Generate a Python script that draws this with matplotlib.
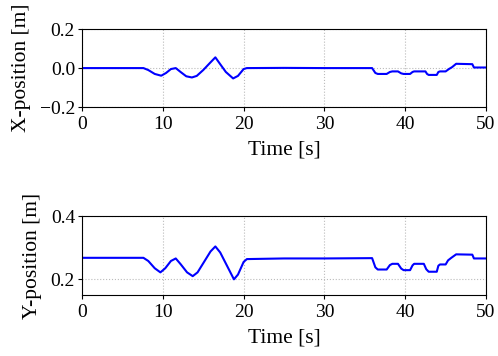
import matplotlib
matplotlib.use("Agg")
import matplotlib.pyplot as plt

# X-position keypoints (time [s], value [m])
t_x = [0, 7.6, 8.2, 9.0, 9.8, 10.4, 11.0, 11.6, 12.2, 12.9, 13.6, 14.2, 15.0, 15.8, 16.5,
       17.1, 17.8, 18.7, 19.3, 20.0, 20.4, 25, 30, 35.9, 36.3, 36.6, 37.7, 38.1, 38.4,
       39.1, 39.5, 39.8, 40.6, 40.9, 41.1, 42.5, 42.7, 42.9, 43.9, 44.1, 44.3, 45.0,
       45.4, 45.8, 46.3, 48.3, 48.5, 50]
x_pos = [0.0, 0.0, -0.01, -0.03, -0.039, -0.025, -0.005, 0.0, -0.02, -0.042, -0.048, -0.04,
         -0.01, 0.025, 0.055, 0.02, -0.02, -0.053, -0.04, -0.005, 0.0, 0.001, 0.0, 0.0,
         -0.025, -0.03, -0.03, -0.02, -0.017, -0.017, -0.027, -0.03, -0.03, -0.02, -0.017,
         -0.017, -0.03, -0.035, -0.035, -0.02, -0.017, -0.017, -0.005, 0.005, 0.022, 0.02,
         0.003, 0.003]

# Y-position keypoints (time [s], value [m])
t_y = [0, 7.6, 8.2, 9.0, 9.7, 10.3, 11.0, 11.6, 12.2, 13.0, 13.7, 14.3, 15.1, 15.9, 16.5,
       17.1, 17.9, 18.8, 19.3, 20.0, 20.4, 25, 30, 35.9, 36.3, 36.6, 37.7, 38.1, 38.4,
       39.1, 39.5, 39.8, 40.6, 40.9, 41.1, 42.3, 42.6, 42.9, 43.9, 44.1, 44.3, 45.0,
       45.3, 45.7, 46.3, 48.3, 48.5, 50]
y_pos = [0.268, 0.268, 0.258, 0.235, 0.222, 0.235, 0.258, 0.266, 0.248, 0.222, 0.210,
         0.222, 0.255, 0.288, 0.304, 0.285, 0.245, 0.200, 0.215, 0.255, 0.264, 0.266,
         0.266, 0.267, 0.238, 0.231, 0.231, 0.245, 0.249, 0.249, 0.234, 0.229, 0.229,
         0.244, 0.249, 0.249, 0.232, 0.224, 0.224, 0.243, 0.247, 0.247, 0.26, 0.268,
         0.279, 0.278, 0.266, 0.266]

x_ticks = [0, 10, 20, 30, 40, 50]
x_yticks = [-0.2, 0.0, 0.2]
y_yticks = [0.2, 0.4]

plt.rcParams['font.family'] = ['Liberation Serif', 'DejaVu Serif']
plt.rcParams['font.size'] = 14

fig = plt.figure(figsize=(4.98, 3.56), dpi=100)
ax1 = fig.add_axes([0.1647, 0.699, 0.8113, 0.2195])
ax2 = fig.add_axes([0.1647, 0.171, 0.8113, 0.222])

for ax, t, v, ylab, yt, yl in [
    (ax1, t_x, x_pos, 'X-position [m]', x_yticks, (-0.2, 0.2)),
    (ax2, t_y, y_pos, 'Y-position [m]', y_yticks, (0.15, 0.4)),
]:
    ax.plot(t, v, color='#0000ff', lw=1.5)
    ax.set_xlim(0, 50)
    ax.set_ylim(*yl)
    ax.set_xticks(x_ticks)
    ax.set_yticks(yt)
    ax.set_yticklabels([f'{val:.1f}'.replace('-', '\u2212') for val in yt])
    ax.set_xlabel('Time [s]', fontsize=15.5, labelpad=5)
    ax.set_ylabel(ylab, fontsize=15.5, labelpad=6)
    ax.grid(True, color='#bbbbbb', linestyle=':', linewidth=0.8)
    ax.tick_params(length=3, width=0.8, pad=2)
    ax.tick_params(axis='x', pad=3.5)
    for s in ax.spines.values():
        s.set_linewidth(0.8)

fig.savefig('out.png', dpi=100)
